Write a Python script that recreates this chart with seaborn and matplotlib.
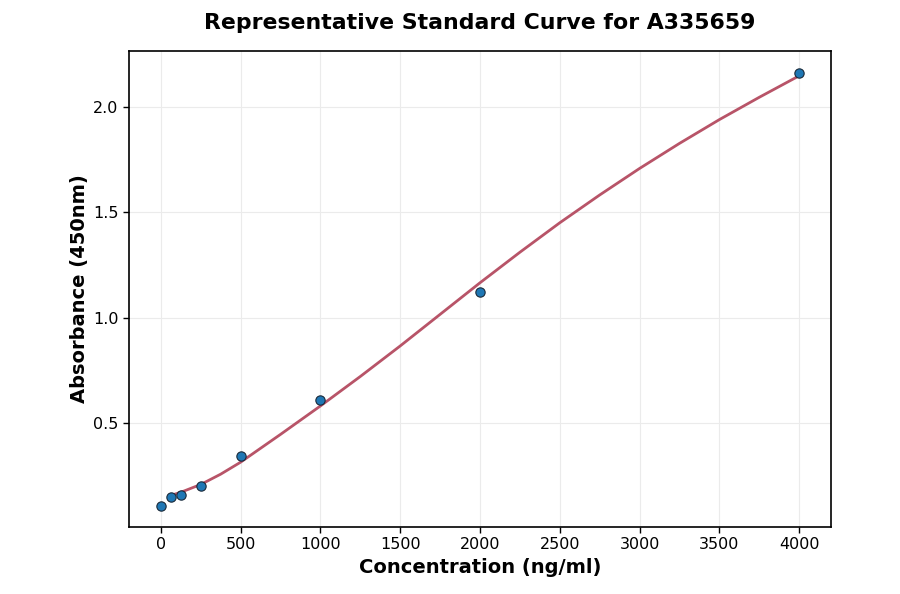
import numpy as np
import pandas as pd
import matplotlib
matplotlib.use('Agg')
import matplotlib.pyplot as plt
import seaborn as sns

# standard points
conc = [0, 62.5, 125, 250, 500, 1000, 2000, 4000]
absorb = [0.107, 0.147, 0.157, 0.202, 0.340, 0.606, 1.123, 2.163]

# fitted curve
curve_x = [62.5, 125, 250, 375, 500, 750, 1000, 1250, 1500, 1750, 2000,
           2250, 2500, 2750, 3000, 3250, 3500, 3750, 4000]
curve_y = [0.155, 0.170, 0.207, 0.256, 0.313, 0.445, 0.580, 0.720, 0.865,
           1.015, 1.165, 1.310, 1.450, 1.582, 1.708, 1.827, 1.940, 2.046, 2.148]

sns.set_theme(style='whitegrid')
plt.rcParams['font.family'] = ['DejaVu Sans']

fig, ax = plt.subplots(figsize=(9, 5.94), dpi=100)
fig.subplots_adjust(left=0.1433, right=0.9233, top=0.9141, bottom=0.1128)

points = pd.DataFrame({'x': conc, 'y': absorb})
fit = pd.DataFrame({'x': curve_x, 'y': curve_y})

sns.lineplot(data=fit, x='x', y='y', ax=ax, color='#b85468', linewidth=2, zorder=2)
sns.scatterplot(data=points, x='x', y='y', ax=ax, color='#1f77b4', s=45,
                edgecolor='#1a2a3a', linewidth=0.8, zorder=3)

ax.set_xlim(-200, 4200)
ax.set_ylim(0.005, 2.266)
ax.set_xticks(np.arange(0, 4001, 500))
ax.set_yticks([0.5, 1.0, 1.5, 2.0])
ax.grid(True, color='#ebebeb', linewidth=0.8)
for s in ax.spines.values():
    s.set_color('black')
    s.set_linewidth(1.2)
ax.tick_params(axis='both', labelsize=11.5, colors='black', length=4, width=1,
               bottom=True, left=True, direction='out')
ax.set_xlabel('Concentration (ng/ml)', fontsize=14, fontweight='bold',
              labelpad=4, color='black')
ax.set_ylabel('Absorbance (450nm)', fontsize=14, fontweight='bold',
              labelpad=3, color='black')
ax.set_title('Representative Standard Curve for A335659', fontsize=15.8,
             fontweight='bold', pad=16, color='black')

fig.savefig('out.png', dpi=100, facecolor='white')
